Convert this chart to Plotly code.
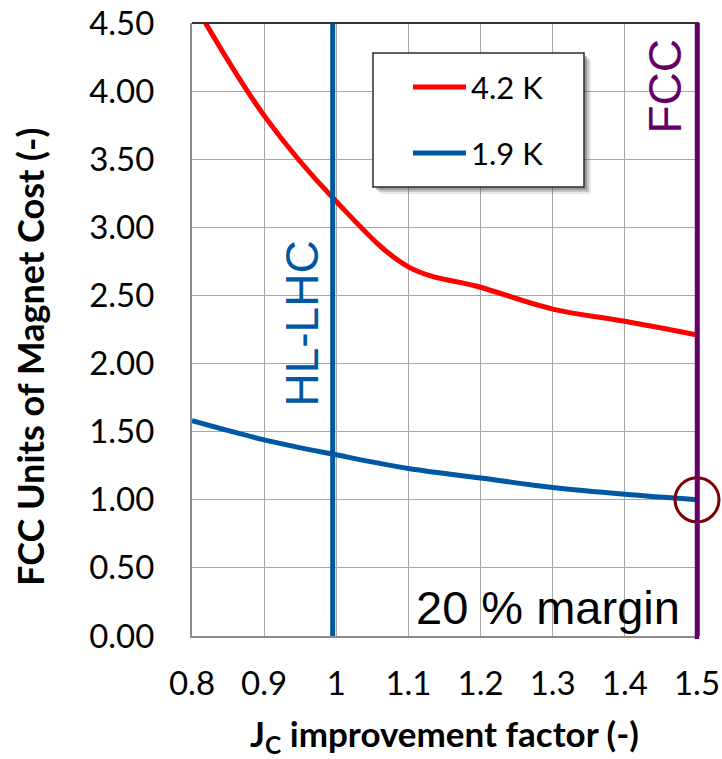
import plotly.graph_objects as go

# ---- data ----
jc_factor = [0.8, 0.9, 1.0, 1.1, 1.2, 1.3, 1.4, 1.5]
cost_42K = [4.67, 3.82, 3.19, 2.71, 2.56, 2.40, 2.31, 2.21]
cost_19K = [1.58, 1.44, 1.33, 1.23, 1.16, 1.09, 1.04, 1.00]
series_names = ["4.2 K", "1.9 K"]
x_tick_vals = [0.8, 0.9, 1.0, 1.1, 1.2, 1.3, 1.4, 1.5]
x_tick_text = ["0.8", "0.9", "1", "1.1", "1.2", "1.3", "1.4", "1.5"]
y_tick_vals = [0.0, 0.5, 1.0, 1.5, 2.0, 2.5, 3.0, 3.5, 4.0, 4.5]
ref_lines_x = [0.995, 1.5]
ref_labels = ["HL-LHC", "FCC"]
highlight_x = [1.5]
highlight_y = [1.0]
annotation_text = "20 % margin"

# ---- layout geometry ----
W, H = 722, 759
ML, MR, MT, MB = 192, 25, 23, 123
PW, PH = W - ML - MR, H - MT - MB


def px_x(p):
    return (p - ML) / PW


def px_y(p):
    return 1 - (p - MT) / PH


RED = "#FF0000"
BLUE = "#0057A3"
PURPLE = "#660066"
CALIBRI = "Lato"
ARIAL = "Liberation Sans"

fig = go.Figure()
fig.add_trace(go.Scatter(x=jc_factor, y=cost_42K, mode="lines", name=series_names[0],
                         line=dict(color=RED, width=5, shape="spline", smoothing=1.0)))
fig.add_trace(go.Scatter(x=jc_factor, y=cost_19K, mode="lines", name=series_names[1],
                         line=dict(color=BLUE, width=5, shape="spline", smoothing=1.0)))

shapes = []
# reference vertical lines
shapes.append(dict(type="line", xref="x", yref="y", x0=ref_lines_x[0], x1=ref_lines_x[0],
                   y0=0, y1=4.5, line=dict(color=BLUE, width=5), layer="above"))
# top / right border
shapes.append(dict(type="line", xref="paper", yref="paper", x0=0, x1=1.004, y0=1, y1=1,
                   line=dict(color="#333333", width=2)))
shapes.append(dict(type="line", xref="paper", yref="paper", x0=1.004, x1=1.004, y0=0, y1=1,
                   line=dict(color="#333333", width=1.5)))
shapes.append(dict(type="line", xref="paper", yref="paper", x0=1.0, x1=1.0,
                   y0=-0.005, y1=1, line=dict(color=PURPLE, width=4.5), layer="above"))
# legend box with shadow
lx0, lx1, ly0, ly1 = 373, 584, 53, 187
for off, op in [(7, 0.12), (5, 0.2), (3, 0.3)]:
    shapes.append(dict(type="rect", xref="paper", yref="paper",
                       x0=px_x(lx0 + off), x1=px_x(lx1 + off), y0=px_y(ly1 + off), y1=px_y(ly0 + off),
                       fillcolor="rgba(60,60,60,%s)" % op, line=dict(width=0), layer="above"))
shapes.append(dict(type="rect", xref="paper", yref="paper",
                   x0=px_x(lx0), x1=px_x(lx1), y0=px_y(ly1), y1=px_y(ly0),
                   fillcolor="white", line=dict(color="#2b2b2b", width=1.5), layer="above"))
for yy, col in [(87, RED), (153, BLUE)]:
    shapes.append(dict(type="line", xref="paper", yref="paper", x0=px_x(413), x1=px_x(466),
                       y0=px_y(yy), y1=px_y(yy), line=dict(color=col, width=5), layer="above"))

# highlight circle (marker, not clipped)
fig.add_trace(go.Scatter(x=highlight_x, y=highlight_y, mode="markers", cliponaxis=False,
                         marker=dict(symbol="circle-open", size=44, color="#7F0000",
                                     line=dict(color="#7F0000", width=3)),
                         hoverinfo="skip", showlegend=False))

annotations = []
for yy, name in [(87, series_names[0]), (153, series_names[1])]:
    annotations.append(dict(xref="paper", yref="paper", x=px_x(469), y=px_y(yy), text=name,
                            showarrow=False, xanchor="left", yanchor="middle",
                            font=dict(family=CALIBRI, size=31, color="black")))
annotations.append(dict(xref="paper", yref="paper", x=px_x(301.5), y=px_y(324), text=ref_labels[0],
                        textangle=-90, showarrow=False, xanchor="center", yanchor="middle",
                        font=dict(family=ARIAL, size=46, color=BLUE)))
annotations.append(dict(xref="paper", yref="paper", x=px_x(664), y=px_y(86.5), text=ref_labels[1],
                        textangle=-90, showarrow=False, xanchor="center", yanchor="middle",
                        font=dict(family=ARIAL, size=46, color=PURPLE)))
annotations.append(dict(xref="paper", yref="paper", x=px_x(682), y=px_y(607), text=annotation_text,
                        showarrow=False, xanchor="right", yanchor="middle",
                        font=dict(family=ARIAL, size=47, color="black")))
annotations.append(dict(xref="paper", yref="paper", x=px_x(444), y=px_y(735),
                        text="<b>J<sub>C</sub> improvement factor (-)</b>",
                        showarrow=False, xanchor="center", yanchor="middle",
                        font=dict(family=CALIBRI, size=35, color="black")))
annotations.append(dict(xref="paper", yref="paper", x=px_x(30), y=px_y(357),
                        text="<b>FCC Units of Magnet Cost (-)</b>", textangle=-90,
                        showarrow=False, xanchor="center", yanchor="middle",
                        font=dict(family=CALIBRI, size=36, color="black")))

fig.update_layout(
    width=W, height=H,
    margin=dict(l=ML, r=MR, t=MT, b=MB, autoexpand=False),
    paper_bgcolor="white", plot_bgcolor="white",
    showlegend=False,
    shapes=shapes, annotations=annotations,
    font=dict(family=CALIBRI, color="black"),
)
fig.update_xaxes(range=[0.8, 1.5], tickvals=x_tick_vals, ticktext=x_tick_text,
                 showgrid=True, gridcolor="#A6A6A6", gridwidth=1.3,
                 showline=True, linecolor="#8C8C8C", linewidth=2,
                 ticks="", ticklabelstandoff=17, automargin=False,
                 tickfont=dict(family=CALIBRI, size=33, color="black"), zeroline=False)
fig.update_yaxes(range=[0, 4.5], tickvals=y_tick_vals, tickformat=".2f",
                 showgrid=True, gridcolor="#A6A6A6", gridwidth=1.3,
                 showline=True, linecolor="#8C8C8C", linewidth=2,
                 ticks="", ticklabelstandoff=29, automargin=False,
                 tickfont=dict(family=CALIBRI, size=33, color="black"), zeroline=False)

fig.write_html("out.html", config={"displayModeBar": False},
               post_script="document.body.style.margin='0';document.body.style.padding='0';"
                           "document.body.style.overflow='hidden';")
